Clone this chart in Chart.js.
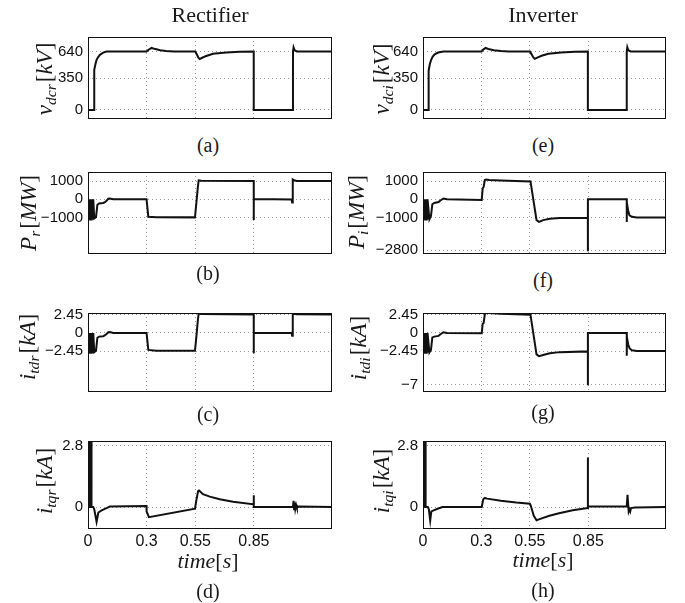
<!DOCTYPE html>
<html>
<head>
<meta charset="utf-8">
<script src="https://cdn.jsdelivr.net/npm/chart.js@4.4.0/dist/chart.umd.min.js"></script>
<style>
body { margin: 0; background: #fff; }
#fig { position: relative; width: 685px; height: 603px; overflow: hidden; background: #fff; }
#fig canvas { position: absolute; }
.txt { position: absolute; font-family: "Liberation Serif", "Times New Roman", serif; color: #1a1a1a; white-space: nowrap; line-height: 1; transform: translate(-50%, -50%); }
.ylab { font-size: 23px; transform: translate(-50%, -50%) rotate(-90deg); }
.ylab sub { font-size: 0.68em; vertical-align: -0.28em; font-style: italic; margin-right: 2px; }
.cap { font-size: 20px; }
.head { font-size: 22px; }
.xlab { font-size: 22px; }
</style>
</head>
<body>
<div id="fig"></div>
<script>
// time axis (s)
var xTicks = [0, 0.3, 0.55, 0.85];

// (a) rectifier dc voltage [kV]
var tVdcr = [0, 0.031, 0.032, 0.038, 0.044, 0.052, 0.061, 0.078, 0.095,
    0.3, 0.31, 0.326, 0.34, 0.37, 0.4, 0.44,
    0.55, 0.557, 0.565, 0.572, 0.585, 0.606, 0.64, 0.709, 0.777,
    0.849, 0.8491, 1.05, 1.0501, 1.053, 1.058, 1.07, 1.25];
var vdcr = [0, 0, 440, 500, 549, 580, 604, 628, 640,
    640, 660, 680, 670, 655, 647, 641,
    640, 610, 575, 558, 572, 592, 616, 631, 638,
    640, 0, 0, 640, 685, 655, 642, 640];

// (e) inverter dc voltage [kV]
var tVdci = [0, 0.028, 0.029, 0.035, 0.042, 0.05, 0.06, 0.078, 0.105,
    0.301, 0.31, 0.322, 0.336, 0.365, 0.4, 0.44,
    0.55, 0.558, 0.567, 0.575, 0.588, 0.61, 0.645, 0.71, 0.78,
    0.848, 0.8481, 1.048, 1.0481, 1.051, 1.056, 1.068, 1.25];
var vdci = [0, 0, 430, 500, 550, 585, 610, 630, 640,
    640, 662, 680, 668, 654, 646, 641,
    640, 612, 578, 560, 574, 594, 617, 631, 638,
    640, 0, 0, 640, 688, 655, 642, 640];

// (b) rectifier power [MW]
var tPr = [0, 0.0015, 0.003, 0.0045, 0.006, 0.0075, 0.009, 0.0105, 0.012, 0.0135,
    0.015, 0.0165, 0.018, 0.0195, 0.021, 0.0225, 0.024, 0.0255, 0.027,
    0.032, 0.041, 0.048, 0.057, 0.078, 0.087, 0.095, 0.104, 0.112, 0.129,
    0.3, 0.309, 0.35, 0.548, 0.556, 0.563, 0.567, 0.58,
    0.849, 0.8491, 0.8495, 0.95, 1.043, 1.046, 1.049, 1.055, 1.07, 1.25];
var pr = [0, -1100, 0, -1100, 0, -1100, 0, -1100, 0, -1100,
    0, -1100, 0, -1100, 0, -1100, 0, -1100, 0,
    -1050, -980, -300, -230, -200, -150, -75, 30, 45, 0,
    0, -955, -985, -990, -100, 700, 1040, 1015,
    1000, -1130, 0, 0, -10, -170, 1090, 1050, 1010, 1000];

// (f) inverter power [MW]
var tPi = [0, 0.0015, 0.003, 0.0045, 0.006, 0.0075, 0.009, 0.0105, 0.012, 0.0135,
    0.015, 0.0165, 0.018, 0.0195, 0.021, 0.0225, 0.024,
    0.033, 0.041, 0.048, 0.058, 0.08, 0.088, 0.105, 0.123,
    0.302, 0.307, 0.312, 0.318, 0.325, 0.34, 0.4,
    0.553, 0.584, 0.597, 0.618, 0.652, 0.703, 0.848,
    0.8481, 0.8485, 1.048, 1.0481, 1.0485, 1.055, 1.062, 1.075, 1.1, 1.25];
var pInv = [0, -1100, 0, -1100, 0, -1100, 0, -1100, 0, -1100,
    0, -1100, 0, -1100, 0, -1100, 0,
    -1090, -910, -270, -200, -150, -75, 45, 0,
    -30, 600, 680, 1060, 1090, 1060, 1030,
    985, -1140, -1240, -1140, -1060, -1030, -1015,
    -2850, 0, 0, -1240, -150, -600, -880, -960, -1000, -1000];

// (c) rectifier d-axis current [kA]
var tItdr = [0, 0.0015, 0.003, 0.0045, 0.006, 0.0075, 0.009, 0.0105, 0.012, 0.0135,
    0.015, 0.0165, 0.018, 0.0195, 0.021, 0.0225, 0.024, 0.0255, 0.027,
    0.032, 0.041, 0.048, 0.057, 0.078, 0.087, 0.095, 0.104, 0.112, 0.129,
    0.3, 0.309, 0.35, 0.548, 0.556, 0.563, 0.567, 0.58,
    0.849, 0.8491, 0.8495, 0.95, 1.043, 1.046, 1.049, 1.055, 1.07, 1.25];
var itdr = [0, -2.7, 0, -2.7, 0, -2.7, 0, -2.7, 0, -2.7,
    0, -2.7, 0, -2.7, 0, -2.7, 0, -2.7, 0,
    -2.6, -2.4, -0.65, -0.5, -0.45, -0.3, -0.15, 0.1, 0.12, 0,
    0, -2.3, -2.4, -2.42, -0.3, 1.8, 2.62, 2.55,
    2.5, -2.75, 0, 0, -0.02, -0.38, 2.72, 2.6, 2.52, 2.48];

// (g) inverter d-axis current [kA]
var tItdi = [0, 0.0015, 0.003, 0.0045, 0.006, 0.0075, 0.009, 0.0105, 0.012, 0.0135,
    0.015, 0.0165, 0.018, 0.0195, 0.021, 0.0225, 0.024,
    0.033, 0.041, 0.048, 0.058, 0.08, 0.088, 0.105, 0.123,
    0.302, 0.307, 0.312, 0.318, 0.325, 0.34, 0.4,
    0.553, 0.584, 0.597, 0.618, 0.652, 0.703, 0.848,
    0.8481, 0.8485, 1.048, 1.0481, 1.0485, 1.056, 1.063, 1.075, 1.1, 1.25];
var itdi = [0, -2.7, 0, -2.7, 0, -2.7, 0, -2.7, 0, -2.7,
    0, -2.7, 0, -2.7, 0, -2.7, 0,
    -2.65, -2.3, -0.6, -0.5, -0.4, -0.2, 0.1, 0,
    -0.05, 1.25, 1.35, 2.5, 2.75, 2.7, 2.6,
    2.45, -2.9, -3.15, -3.0, -2.75, -2.6, -2.5,
    -7.1, 0, 0, -3.1, -0.5, -1.6, -2.1, -2.35, -2.45, -2.45];

// (d) rectifier q-axis current [kA]
var tItqr = [0, 0.0015, 0.003, 0.0045, 0.006, 0.0075, 0.009, 0.0105, 0.012, 0.0135,
    0.015, 0.0165, 0.018,
    0.027, 0.032, 0.044, 0.053, 0.07, 0.095, 0.112,
    0.3, 0.3001, 0.312, 0.548,
    0.555, 0.564, 0.569, 0.589, 0.624, 0.675, 0.743,
    0.849, 0.8491, 0.8495,
    1.05, 1.053, 1.056, 1.059, 1.062, 1.066, 1.07, 1.08, 1.25];
var itqr = [0, 2.95, 0, 2.95, 0, 2.95, 0, 2.95, 0, 2.95,
    0, 2.95, 0,
    0, -0.1, -0.67, -0.25, -0.15, -0.05, 0.02,
    0.04, -0.2, -0.46, -0.08,
    0.3, 0.72, 0.75, 0.58, 0.47, 0.35, 0.24,
    0.12, 0.53, 0,
    0, 0.28, -0.1, 0.2, -0.08, 0.1, -0.03, 0.02, 0];

// (h) inverter q-axis current [kA]
var tItqi = [0, 0.0015, 0.003, 0.0045, 0.006, 0.0075, 0.009, 0.0105, 0.012, 0.0135, 0.015,
    0.025, 0.03, 0.037, 0.043, 0.055, 0.075, 0.1,
    0.302, 0.31, 0.318, 0.33, 0.4, 0.48, 0.55,
    0.553, 0.57, 0.584, 0.6, 0.65, 0.7, 0.77, 0.848,
    0.8481, 0.8485,
    1.048, 1.052, 1.058, 1.062, 1.066, 1.07, 1.09, 1.25];
var itqi = [0, 2.95, 0, 2.95, 0, 2.95, 0, 2.95, 0, 2.95, 0,
    0, -0.1, -0.62, -0.2, -0.15, -0.08, 0,
    0, 0.35, 0.41, 0.38, 0.28, 0.2, 0.15,
    0.1, -0.4, -0.6, -0.55, -0.4, -0.28, -0.15, -0.05,
    2.25, 0.02,
    0.02, 0.55, -0.2, -0.1, -0.2, -0.05, -0.02, 0];

// y tick labels
var yTicksV = [0, 350, 640];
var yTicksPr = [-1000, 0, 1000];
var yTicksPi = [-2800, -1000, 0, 1000];
var yTicksItdr = [-2.45, 0, 2.45];
var yTicksItdi = [-7, -2.45, 0, 2.45];
var yTicksItq = [0, 2.8];

// layout of the 4x2 grid of axes (pixels)
var plotLeft = [88, 423], plotRight = [332, 666];
var plotTop = [29, 164, 305, 433], plotBottom = [127, 262, 400, 529];
var Y_AXIS_W = 70, PAD = 6, X_AXIS_H = 28;

var fig = document.getElementById('fig');

function fmt(v) {
    return v < 0 ? '\u2212' + Math.abs(v) : String(v);
}

var framePlugin = {
    id: 'frame',
    afterDraw: function(chart) {
        var a = chart.chartArea, ctx = chart.ctx;
        ctx.save();
        ctx.strokeStyle = '#111';
        ctx.lineWidth = 1;
        ctx.strokeRect(Math.round(a.left) + 0.5, Math.round(a.top) + 0.5,
            Math.round(a.right - a.left) - 1, Math.round(a.bottom - a.top) - 1);
        ctx.restore();
    }
};

function makePanel(col, row, ts, vs, yMin, yMax, yTicks, showX) {
    var w = plotRight[col] - plotLeft[col];
    var h = plotBottom[row] - plotTop[row];
    var cv = document.createElement('canvas');
    var cw = w + Y_AXIS_W + PAD;
    var ch = h + 2 * PAD + (showX ? X_AXIS_H : 0);
    cv.width = cw; cv.height = ch;
    cv.style.width = cw + 'px'; cv.style.height = ch + 'px';
    cv.style.left = (plotLeft[col] - Y_AXIS_W) + 'px';
    cv.style.top = (plotTop[row] - PAD) + 'px';
    fig.appendChild(cv);

    var pts = ts.map(function(t, i) { return { x: t, y: vs[i] }; });

    return new Chart(cv.getContext('2d'), {
        type: 'line',
        data: {
            datasets: [{
                data: pts,
                borderColor: '#111',
                borderWidth: 2,
                pointRadius: 0,
                tension: 0,
                fill: false
            }]
        },
        options: {
            responsive: false,
            animation: false,
            events: [],
            layout: { padding: { left: 0, right: PAD, top: PAD, bottom: PAD } },
            plugins: { legend: { display: false }, tooltip: { enabled: false } },
            scales: {
                x: {
                    type: 'linear',
                    min: 0,
                    max: 1.25,
                    afterBuildTicks: function(s) { s.ticks = xTicks.map(function(v) { return { value: v }; }); },
                    afterFit: function(s) { s.height = showX ? X_AXIS_H : 0; },
                    grid: { color: '#9a9a9a', lineWidth: 1, drawTicks: false, borderDash: [1, 3] },
                    border: { display: false, dash: [1, 3] },
                    ticks: {
                        display: showX,
                        autoSkip: false,
                        maxRotation: 0,
                        padding: 3,
                        color: '#111',
                        font: { family: '"Liberation Sans", Arial, sans-serif', size: 16 },
                        callback: function(v) { return fmt(v); }
                    }
                },
                y: {
                    min: yMin,
                    max: yMax,
                    afterBuildTicks: function(s) { s.ticks = yTicks.map(function(v) { return { value: v }; }); },
                    afterFit: function(s) { s.width = Y_AXIS_W; },
                    grid: { color: '#9a9a9a', lineWidth: 1, drawTicks: false, borderDash: [1, 3] },
                    border: { display: false, dash: [1, 3] },
                    ticks: {
                        autoSkip: false,
                        padding: 5,
                        color: '#111',
                        font: { family: '"Liberation Sans", Arial, sans-serif', size: 15 },
                        callback: function(v) { return fmt(v); }
                    }
                }
            }
        },
        plugins: [framePlugin]
    });
}

makePanel(0, 0, tVdcr, vdcr, -100, 800, yTicksV, false);
makePanel(0, 1, tPr, pr, -3000, 1500, yTicksPr, false);
makePanel(0, 2, tItdr, itdr, -8, 2.7, yTicksItdr, false);
makePanel(0, 3, tItqr, itqr, -1, 3, yTicksItq, true);
makePanel(1, 0, tVdci, vdci, -100, 800, yTicksV, false);
makePanel(1, 1, tPi, pInv, -3000, 1500, yTicksPi, false);
makePanel(1, 2, tItdi, itdi, -8, 2.7, yTicksItdi, false);
makePanel(1, 3, tItqi, itqi, -1, 3, yTicksItq, true);

function addText(html, x, y, cls) {
    var d = document.createElement('div');
    d.className = 'txt ' + cls;
    d.innerHTML = html;
    d.style.left = x + 'px';
    d.style.top = y + 'px';
    fig.appendChild(d);
}

addText('Rectifier', 210, 15, 'head');
addText('Inverter', 543, 15, 'head');

addText('<i>v</i><sub>dcr</sub>[<i>kV</i>]', 46, 79, 'ylab');
addText('<i>P</i><sub>r</sub>[<i>MW</i>]', 30, 213, 'ylab');
addText('<i>i</i><sub>tdr</sub>[<i>kA</i>]', 29, 347, 'ylab');
addText('<i>i</i><sub>tqr</sub>[<i>kA</i>]', 46, 481, 'ylab');
addText('<i>v</i><sub>dci</sub>[<i>kV</i>]', 383, 79, 'ylab');
addText('<i>P</i><sub>i</sub>[<i>MW</i>]', 358, 212, 'ylab');
addText('<i>i</i><sub>tdi</sub>[<i>kA</i>]', 360, 348, 'ylab');
addText('<i>i</i><sub>tqi</sub>[<i>kA</i>]', 383, 481, 'ylab');

addText('(a)', 208, 145, 'cap');
addText('(b)', 208, 273, 'cap');
addText('(c)', 208, 414, 'cap');
addText('(d)', 208, 591, 'cap');
addText('(e)', 543, 145, 'cap');
addText('(f)', 543, 280, 'cap');
addText('(g)', 543, 412, 'cap');
addText('(h)', 543, 590, 'cap');

addText('<i>time</i>[<i>s</i>]', 208, 561, 'xlab');
addText('<i>time</i>[<i>s</i>]', 543, 560, 'xlab');
</script>
</body>
</html>
